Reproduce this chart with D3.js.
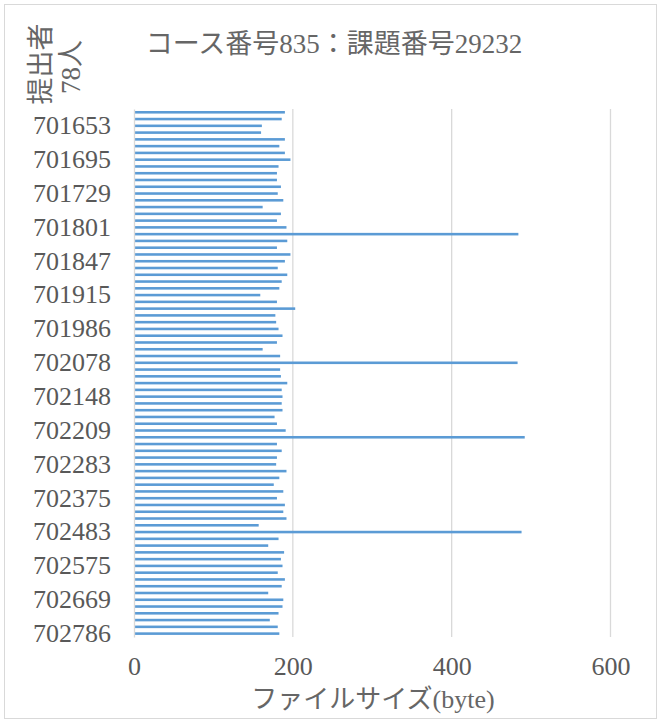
<!DOCTYPE html>
<html>
<head>
<meta charset="utf-8">
<script src="https://cdn.jsdelivr.net/npm/d3@7"></script>
<style>
  body { margin: 0; background: #fff; }
  text { font-family: "Liberation Serif", "Noto Sans CJK JP", serif; fill: #595959; }
</style>
</head>
<body>
<div id="my_dataviz"></div>
<script>
// student ids (top to bottom)
var students = ["701612", "701630", "701653", "701661", "701672", "701680", "701688", "701695",
    "701701", "701709", "701716", "701722", "701729", "701745", "701758", "701770", "701789",
    "701801", "701812", "701820", "701831", "701840", "701847", "701859", "701868", "701880",
    "701897", "701915", "701927", "701940", "701952", "701968", "701986", "702001", "702019",
    "702036", "702054", "702078", "702090", "702103", "702119", "702131", "702148", "702160",
    "702171", "702183", "702197", "702209", "702223", "702238", "702252", "702267", "702283",
    "702301", "702318", "702336", "702357", "702375", "702394", "702416", "702439", "702460",
    "702483", "702500", "702517", "702536", "702556", "702575", "702594", "702612", "702631",
    "702650", "702669", "702690", "702712", "702738", "702761", "702786"];

// file size in bytes
var sizes = [190, 186, 161, 160, 190, 183, 190, 197, 182, 180, 180, 185, 181, 188, 162, 185, 180, 192,
    484, 193, 180, 197, 190, 181, 193, 186, 183, 159, 180, 203, 178, 179, 182, 187, 180, 162,
    184, 483, 184, 185, 193, 186, 187, 186, 187, 177, 180, 191, 492, 180, 186, 180, 179, 192,
    183, 176, 188, 180, 190, 188, 192, 157, 488, 182, 169, 189, 185, 187, 181, 190, 186, 169,
    188, 187, 182, 171, 181, 183];

// labels shown on the category axis
var shownLabels = ["701653", "701695", "701729", "701801", "701847", "701915", "701986", "702078",
    "702148", "702209", "702283", "702375", "702483", "702575", "702669", "702786"];

var xTicks = [0, 200, 400, 600];

var title = "コース番号835：課題番号29232";
var xTitle = "ファイルサイズ(byte)";
var yTitle = ["提出者", "78人"];

var W = 660, H = 722;

var svg = d3.select("#my_dataviz")
    .append("svg")
    .attr("width", W)
    .attr("height", H);

// chart frame
svg.append("rect")
    .attr("x", 4.5).attr("y", 4.5)
    .attr("width", 652).attr("height", 714)
    .attr("fill", "#fff")
    .attr("stroke", "#d9d9d9");

var x = d3.scaleLinear()
    .domain([0, 600])
    .range([134, 610.5]);

var y = d3.scaleBand()
    .domain(students)
    .range([108.9, 637])
    .paddingInner(0.62)
    .paddingOuter(0.31);

// gridlines
svg.append("g")
    .selectAll("line")
    .data(xTicks.slice(1))
    .enter().append("line")
    .attr("x1", function (d) { return x(d); })
    .attr("x2", function (d) { return x(d); })
    .attr("y1", 108.9)
    .attr("y2", 637)
    .attr("stroke", "#d9d9d9")
    .attr("stroke-width", 1.3);

// bars
svg.append("g")
    .selectAll("rect")
    .data(sizes)
    .enter().append("rect")
    .attr("x", x(0))
    .attr("y", function (d, i) { return y(students[i]); })
    .attr("width", function (d) { return x(d) - x(0); })
    .attr("height", y.bandwidth())
    .attr("fill", "#5b9bd5");

// category axis
var y_axis = d3.axisLeft(y)
    .tickValues(shownLabels)
    .tickSize(0)
    .tickPadding(23);

var gy = svg.append("g")
    .attr("transform", "translate(" + x(0) + ",0)")
    .call(y_axis);
gy.select(".domain").attr("stroke", "#d9d9d9").attr("stroke-width", 1.3);
gy.selectAll("text").attr("font-size", 26).attr("fill", "#595959")
    .style("font-family", "'Liberation Serif', serif");

// value axis labels
var x_axis = d3.axisBottom(x)
    .tickValues(xTicks)
    .tickSize(0)
    .tickPadding(20);

var gx = svg.append("g")
    .attr("transform", "translate(0,637)")
    .call(x_axis);
gx.select(".domain").remove();
gx.selectAll("text").attr("font-size", 26).attr("fill", "#595959")
    .style("font-family", "'Liberation Serif', serif");

// titles
svg.append("text")
    .attr("x", 334)
    .attr("y", 53)
    .attr("text-anchor", "middle")
    .attr("font-size", 27)
    .style("fill", "#666")
    .text(title);

svg.append("text")
    .attr("x", 373)
    .attr("y", 708)
    .attr("text-anchor", "middle")
    .attr("font-size", 26)
    .style("fill", "#666")
    .text(xTitle);

svg.append("text")
    .attr("transform", "translate(50,64) rotate(-90)")
    .attr("text-anchor", "middle")
    .attr("font-size", 27)
    .style("fill", "#666")
    .text(yTitle[0]);

svg.append("text")
    .attr("transform", "translate(80,67) rotate(-90)")
    .attr("text-anchor", "middle")
    .attr("font-size", 27)
    .style("fill", "#666")
    .text(yTitle[1]);
</script>
</body>
</html>
